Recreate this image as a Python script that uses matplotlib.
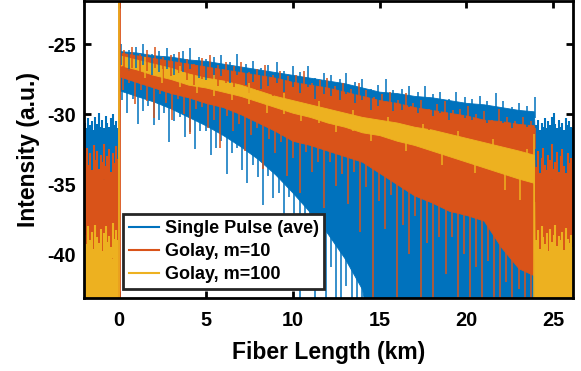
import matplotlib
matplotlib.use('Agg')
import matplotlib.pyplot as plt
from matplotlib.lines import Line2D

# OTDR traces (km, dB). before 0 and after 23.9 km = noise floor
km = [-2.1, -0.03, 0.03, 1, 2, 3, 4, 5, 6, 7, 8, 9, 10, 11, 12, 13, 14, 15, 16,
      17, 18, 19, 20, 21, 22, 23, 23.88, 23.93, 26.3]

single_top = [-31.4, -31.4, -25.5, -25.6, -25.8, -25.9, -26.1, -26.2, -26.4, -26.6,
              -26.8, -27.0, -27.2, -27.4, -27.6, -27.8, -28.1, -28.4, -28.5, -28.7,
              -28.8, -29.0, -29.2, -29.3, -29.5, -29.7, -29.8, -31.4, -31.4]
single_bot = [-50, -50, -28.3, -28.7, -29.1, -29.6, -30.2, -30.8, -31.5, -32.3,
              -33.2, -34.3, -35.6, -37.0, -38.5, -40.3, -42.5, -50, -50, -50,
              -50, -50, -50, -50, -50, -50, -50, -50, -50]

m10_top = [-34.6, -34.6, -25.6, -25.8, -26.0, -26.2, -26.4, -26.6, -26.8, -27.0,
           -27.2, -27.4, -27.7, -27.9, -28.1, -28.4, -28.7, -29.0, -29.2, -29.5,
           -29.7, -29.9, -30.1, -30.4, -30.5, -30.7, -30.8, -34.6, -34.6]
m10_bot = [-50, -50, -27.3, -27.7, -28.1, -28.5, -28.8, -29.2, -29.5, -30.0,
           -30.6, -31.2, -31.9, -32.2, -32.6, -33.0, -33.4, -34.2, -35.0, -35.8,
           -36.3, -36.9, -37.2, -37.6, -39.5, -41.0, -41.5, -50, -50]

m100_top = [-40.3, -40.3, -25.8, -26.1, -26.4, -26.7, -27.1, -27.4, -27.6, -27.9,
            -28.3, -28.7, -29.0, -29.3, -29.6, -29.9, -30.2, -30.4, -30.6, -30.9,
            -31.1, -31.4, -31.7, -32.0, -32.3, -32.6, -32.9, -40.3, -40.3]
m100_bot = [-50, -50, -26.5, -26.8, -27.2, -27.5, -27.9, -28.1, -28.4, -28.7,
            -29.1, -29.5, -29.9, -30.2, -30.6, -30.9, -31.3, -31.5, -31.9, -32.2,
            -32.6, -33.0, -33.4, -33.8, -34.2, -34.6, -34.9, -50, -50]

# noise floor peaks, same positions for the three traces
floor_km = [-1.95, -1.85, -1.75, -1.65, -1.55, -1.45, -1.35, -1.25, -1.15, -1.05,
            -0.95, -0.85, -0.75, -0.65, -0.55, -0.45, -0.35, -0.25, -0.15, -0.07,
            24.02, 24.12, 24.22, 24.32, 24.42, 24.52, 24.62, 24.72, 24.82, 24.92, 25.02,
            25.12, 25.22, 25.32, 25.42, 25.52, 25.62, 25.72, 25.82, 25.92, 26.02, 26.12]
single_floor = [-30.6, -31.0, -30.3, -30.8, -30.5, -31.1, -30.2, -30.7, -29.9, -30.9,
                -30.4, -31.0, -30.1, -30.6, -30.9, -30.3, -30.0, -30.8, -30.5, -31.0,
                -30.8, -30.4, -31.1, -30.6, -30.9, -30.3, -31.0, -30.5, -30.8, -30.2, -29.9,
                -30.7, -31.0, -30.4, -30.9, -30.6, -31.1, -30.3, -30.8, -30.5, -30.9, -31.0]
m10_floor = [-33.0, -32.4, -33.6, -32.8, -34.0, -32.2, -33.3, -32.6, -33.9, -32.9,
             -33.4, -32.1, -33.7, -33.0, -32.5, -34.1, -32.8, -33.5, -32.3, -33.2,
             -33.8, -32.6, -34.2, -33.1, -32.4, -33.6, -34.0, -32.9, -33.3, -32.1, -33.9,
             -33.4, -32.7, -34.1, -33.0, -32.5, -33.7, -34.2, -32.8, -33.5, -33.1, -34.0]
m100_floor = [-38.6, -39.3, -38.0, -39.0, -38.4, -39.6, -37.9, -38.8, -39.2, -38.2,
              -39.8, -38.5, -38.0, -39.1, -38.7, -39.5, -37.8, -38.9, -38.3, -39.0,
              -39.0, -38.3, -39.6, -38.0, -38.8, -39.3, -38.5, -39.8, -38.2, -39.1, -38.6,
              -37.9, -39.4, -38.7, -39.0, -38.4, -39.7, -38.1, -38.9, -39.2, -38.6, -39.5]

# upward noise peaks along the fiber
single_up_km = [0.15, 0.6, 1.0, 1.4, 1.9, 2.3, 2.8, 3.2, 3.7, 4.1, 4.6, 5.0, 5.5, 5.9,
                6.4, 6.8, 7.3, 7.7, 8.2, 8.6, 9.1, 9.5, 10.0, 10.4, 10.9, 11.3, 11.8,
                12.2, 12.7, 13.1, 13.6, 14.0, 14.5, 14.9, 15.4, 15.8, 16.3, 16.7, 17.2,
                17.6, 18.1, 18.5, 19.0, 19.4, 19.9, 20.3, 20.8, 21.2, 21.7, 22.1, 22.6,
                23.0, 23.5, 23.95]
single_up_hi = [-25.0, -25.4, -25.2, -25.0, -25.7, -25.5, -25.3, -25.7, -25.5, -25.3,
                -25.9, -26.1, -25.9, -25.8, -26.3, -25.7, -26.4, -26.2, -26.7, -26.5,
                -26.3, -26.9, -26.6, -27.0, -26.6, -27.4, -27.1, -27.2, -27.5, -27.1,
                -27.7, -27.5, -28.2, -27.9, -27.5, -28.3, -28.2, -28.0, -28.4, -28.0,
                -28.6, -28.4, -28.9, -28.4, -28.8, -28.9, -28.7, -29.1, -28.5, -29.1,
                -29.5, -29.2, -29.45, -28.8]
m10_up_km = [0.3, 0.75, 1.2, 1.65, 2.1, 2.55, 3.0, 3.45, 3.9, 4.35, 4.8, 5.25, 5.7,
             6.15, 6.6, 7.05, 7.5, 7.95, 8.4, 8.85, 9.3, 9.75, 10.2, 10.65, 11.1, 11.55,
             12.0, 12.45, 12.9, 13.35, 13.8, 14.25, 14.7, 15.15, 15.6, 16.05, 16.5,
             16.95, 17.4, 17.85, 18.3, 18.75, 19.2, 19.65, 20.1, 20.55, 21.0, 21.45,
             21.9, 22.35, 22.8, 23.25, 23.7, 23.93]
m10_up_hi = [-25.4, -25.2, -25.7, -25.4, -25.2, -25.9, -25.8, -25.6, -26.1, -26.4,
             -26.0, -25.8, -26.5, -26.3, -26.6, -26.3, -27.0, -26.8, -26.5, -27.2,
             -26.9, -27.3, -27.2, -26.9, -27.8, -27.6, -27.4, -28.0, -27.8, -28.2,
             -27.8, -28.3, -28.8, -28.6, -28.4, -29.0, -28.5, -29.2, -29.0, -29.6,
             -29.3, -29.1, -29.7, -29.6, -29.4, -30.0, -29.8, -30.4, -29.6, -30.2,
             -30.5, -30.2, -30.5, -31.0]
m100_up_km = [1.5, 3.5, 5.5, 7.5, 9.5, 11.5, 13.5, 15.5, 17.5, 19.5, 21.5, 23.5]
m100_up_hi = [-25.95, -26.6, -27.2, -27.8, -28.5, -29.1, -29.7, -30.2, -30.7, -31.2,
              -31.8, -32.5]

# downward noise dips along the fiber (km, low end, high end)
single_dn_km = [0.2, 0.5, 0.8, 1.1, 1.4, 1.7, 2.0, 2.3, 2.6, 2.9, 3.2, 3.5, 3.8, 4.1,
                4.4, 4.7, 5.0, 5.3, 5.6, 5.9, 6.2, 6.5, 6.8, 7.1, 7.4, 7.7, 8.0, 8.3,
                8.6, 8.9, 9.2, 9.5, 9.8, 10.1, 10.4, 10.7, 11.0, 11.3, 11.6, 11.9, 12.2,
                12.5, 12.8, 13.1, 13.4, 13.7, 14.0]
single_dn_lo = [-29.0, -29.9, -28.9, -30.7, -29.8, -29.4, -30.8, -30.4, -29.9, -32.0,
                -30.5, -30.2, -31.6, -31.3, -32.5, -31.2, -31.2, -32.9, -32.4, -31.9,
                -34.3, -32.8, -32.4, -34.0, -34.9, -33.6, -34.5, -36.5, -34.4, -36.0,
                -35.6, -38.5, -35.9, -37.9, -44, -37.8, -39.8, -44, -39.4, -44, -40.9,
                -44, -44, -42.3, -44, -44, -44]
single_dn_hi = [-27.6, -27.8, -27.9, -28.0, -28.2, -28.3, -28.4, -28.5, -28.6, -28.8,
                -29.0, -29.1, -29.3, -29.5, -29.6, -29.8, -30.0, -30.2, -30.4, -30.6,
                -30.9, -31.1, -31.3, -31.6, -31.9, -32.2, -32.4, -32.8, -33.1, -33.4,
                -33.8, -34.2, -34.6, -35.0, -35.4, -35.8, -36.2, -36.6, -37.0, -37.5,
                -38.0, -38.5, -39.0, -39.5, -40.0, -40.8, -41.5]
m10_dn_km = [0.25, 0.6, 0.95, 1.3, 1.65, 2.0, 2.35, 2.7, 3.05, 3.4, 3.75, 4.1, 4.45,
             4.8, 5.15, 5.5, 5.85, 6.2, 6.55, 6.9, 7.25, 7.6, 7.95, 8.3, 8.65, 9.0, 9.35,
             9.7, 10.05, 10.4, 10.75, 11.1, 11.45, 11.8, 12.15, 12.5, 12.85, 13.2,
             13.55, 13.9, 14.25, 14.6, 14.95, 15.3, 15.65, 16.0, 16.35, 16.7, 17.05,
             17.4, 17.75, 18.1, 18.45, 18.8, 19.15, 19.5, 19.85, 20.2, 20.55, 20.9,
             21.25, 21.6, 21.95, 22.3, 22.65, 23.0, 23.35, 23.7]
m10_dn_lo = [-28.3, -27.8, -29.3, -28.3, -29.1, -30.3, -28.6, -29.2, -30.4, -28.9,
             -30.0, -31.4, -29.6, -29.5, -31.0, -30.4, -32.4, -30.1, -31.2, -30.7,
             -32.6, -31.5, -31.0, -33.9, -31.8, -32.8, -32.0, -34.4, -33.1, -35.6,
             -32.7, -34.1, -33.4, -36.7, -33.4, -35.1, -34.3, -36.4, -34.1, -38.4,
             -35.2, -43.5, -36.2, -38.2, -35.8, -43.5, -37.9, -40.0, -37.3, -43.5,
             -39.2, -43.5, -38.8, -41.4, -38.8, -43.5, -40.0, -43.5, -40.9, -43.5,
             -40.5, -43.5, -43.5, -42.0, -43.5, -42.5, -43.5, -43.5]
m10_dn_hi = [-26.6, -26.8, -27.0, -27.1, -27.2, -27.3, -27.4, -27.6, -27.7, -27.8,
             -27.9, -28.0, -28.2, -28.3, -28.4, -28.5, -28.7, -28.8, -29.0, -29.1,
             -29.3, -29.6, -29.8, -30.0, -30.2, -30.4, -30.6, -30.9, -31.1, -31.2,
             -31.3, -31.4, -31.5, -31.7, -31.8, -32.0, -32.1, -32.3, -32.4, -32.6,
             -32.9, -33.1, -33.4, -33.6, -34.0, -34.2, -34.5, -34.8, -35.0, -35.2,
             -35.4, -35.6, -35.8, -36.0, -36.1, -36.3, -36.4, -36.5, -36.7, -36.8,
             -37.2, -37.6, -38.4, -39.0, -39.5, -40.0, -40.4, -40.6]
m100_dn_km = [2.5, 4.5, 6.5, 8.5, 10.5, 12.5, 14.5, 16.5, 18.6, 20.5, 22.2, 23.1, 23.9]
m100_dn_lo = [-27.8, -28.5, -29.0, -29.9, -30.5, -31.3, -31.9, -32.6, -33.6, -34.2,
              -35.4, -36.1, -43.5]
m100_dn_hi = [-26.8, -27.5, -28.0, -28.9, -29.5, -30.3, -30.9, -31.6, -32.4, -33.2,
              -34.0, -34.6, -31.4]

labels = ['Single Pulse (ave)', 'Golay, m=10', 'Golay, m=100']
colors = ['#0072BD', '#D95319', '#EDB120']

plt.rcParams['font.family'] = ['Liberation Sans', 'DejaVu Sans']
plt.rcParams['font.weight'] = 'bold'
plt.rcParams['axes.unicode_minus'] = False

fig = plt.figure(figsize=(5.81, 3.71), dpi=100)
ax = fig.add_axes([0.1446, 0.1957, 0.8422, 0.8008])

traces = [
    (single_top, single_bot, single_floor, single_up_km, single_up_hi,
     single_dn_km, single_dn_lo, single_dn_hi),
    (m10_top, m10_bot, m10_floor, m10_up_km, m10_up_hi,
     m10_dn_km, m10_dn_lo, m10_dn_hi),
    (m100_top, m100_bot, m100_floor, m100_up_km, m100_up_hi,
     m100_dn_km, m100_dn_lo, m100_dn_hi),
]

for (top, bot, flo, uk, uh, dk, dl, dh), c in zip(traces, colors):
    ax.fill_between(km, bot, top, color=c, lw=0.6, edgecolor=c)
    ax.vlines(floor_km, [v - 2.5 for v in flo], flo, color=c, lw=1.5)
    ax.vlines(uk, [v - 1.5 for v in uh], uh, color=c, lw=1.1)
    ax.vlines(dk, dl, dh, color=c, lw=1.1)

# reflection at fiber start
ax.vlines([0.0], -45, -20, color=colors[1], lw=2.0)
ax.vlines([0.0], -45, -20, color=colors[2], lw=1.2)

ax.set_xlim(-2.0, 26.15)
ax.set_ylim(-43.15, -21.95)
ax.set_xticks([0, 5, 10, 15, 20, 25])
ax.set_yticks([-40, -35, -30, -25])
ax.set_axisbelow(True)
ax.tick_params(direction='in', length=5, width=2, labelsize=14.3,
               top=True, right=True, pad=6)
ax.tick_params(axis='x', pad=9)
for s in ax.spines.values():
    s.set_linewidth(2)

ax.set_xlabel('Fiber Length (km)', fontsize=16.5, fontweight='bold', labelpad=8)
ax.set_ylabel('Intensity (a.u.)', fontsize=16.5, fontweight='bold', labelpad=5)

handles = [Line2D([], [], color=c, lw=1.5) for c in colors]
leg = ax.legend(handles, labels, loc='lower left', bbox_to_anchor=(0.08, 0.032),
                borderaxespad=0, fancybox=False, framealpha=1, edgecolor='#262626',
                prop={'size': 13, 'weight': 'bold'}, handlelength=1.7,
                handletextpad=0.3, labelspacing=0.35, borderpad=0.3)
leg.get_frame().set_linewidth(2)

fig.savefig('out.png', dpi=100)
